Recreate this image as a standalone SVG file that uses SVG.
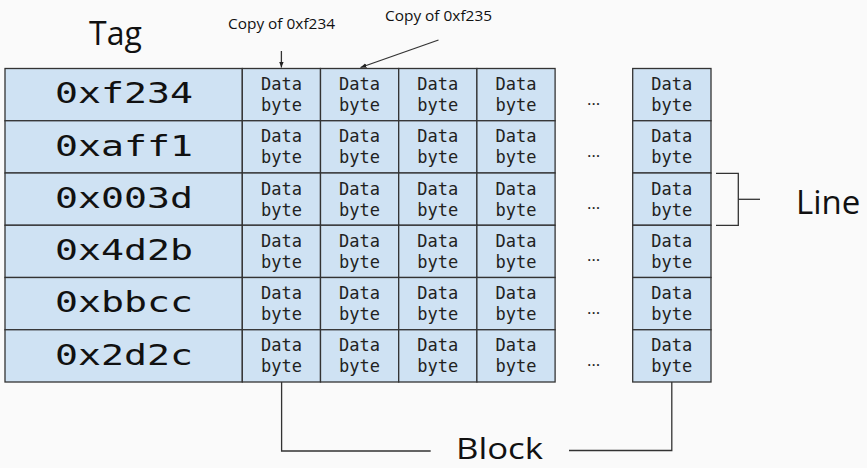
<svg xmlns="http://www.w3.org/2000/svg" width="867" height="468" viewBox="0 0 867 468">
<style>
.cell{fill:#cfe2f3;stroke:#333;stroke-width:1.3}
.hex{font-family:"DejaVu Sans Mono",monospace;font-size:27.5px;fill:#111}
.db{font-family:"DejaVu Sans Mono",monospace;font-size:17px;fill:#222;text-anchor:middle}
.dots{font-family:"Open Sans",sans-serif;font-size:17px;fill:#222;text-anchor:middle}
.lbl{font-family:"Open Sans",sans-serif;fill:#111}
.ln{fill:none;stroke:#333;stroke-width:1.3}
</style>
<defs>
<marker id="ah" viewBox="0 0 10 10" refX="10" refY="5" markerWidth="6" markerHeight="6" orient="auto" markerUnits="userSpaceOnUse">
<path d="M0,1 L10,5 L0,9 Z" fill="#222"/>
</marker>
</defs>
<rect width="867" height="468" fill="#fafafa"/>

<text class="lbl" x="89" y="45" font-size="32">Tag</text>
<text class="lbl" x="228" y="28.5" font-size="15" textLength="107" lengthAdjust="spacingAndGlyphs">Copy of 0xf234</text>
<text class="lbl" x="385" y="20.5" font-size="15" textLength="107" lengthAdjust="spacingAndGlyphs">Copy of 0xf235</text>
<text class="lbl" x="796" y="213.5" font-size="33">Line</text>
<text class="lbl" x="456" y="459" font-size="30" textLength="87" lengthAdjust="spacingAndGlyphs">Block</text>

<g id="row1" transform="translate(0,68.5)">
<rect class="cell" x="5" y="0" width="237.3" height="52.25"/>
<text class="hex" x="55" y="34.8" textLength="138" lengthAdjust="spacingAndGlyphs">0xf234</text>
<rect class="cell" x="242.3" y="0" width="78.2" height="52.25"/>
<rect class="cell" x="320.5" y="0" width="78.2" height="52.25"/>
<rect class="cell" x="398.7" y="0" width="78.2" height="52.25"/>
<rect class="cell" x="476.9" y="0" width="78.2" height="52.25"/>
<rect class="cell" x="632.7" y="0" width="78.3" height="52.25"/>
<text class="db" x="281.4" y="21.5">Data<tspan x="281.4" dy="21">byte</tspan></text>
<text class="db" x="359.6" y="21.5">Data<tspan x="359.6" dy="21">byte</tspan></text>
<text class="db" x="437.8" y="21.5">Data<tspan x="437.8" dy="21">byte</tspan></text>
<text class="db" x="516" y="21.5">Data<tspan x="516" dy="21">byte</tspan></text>
<text class="db" x="671.85" y="21.5">Data<tspan x="671.85" dy="21">byte</tspan></text>
<text class="dots" x="593.5" y="36">…</text>
</g>

<g id="row2" transform="translate(0,120.75)">
<rect class="cell" x="5" y="0" width="237.3" height="52.25"/>
<text class="hex" x="55" y="34.8" textLength="138" lengthAdjust="spacingAndGlyphs">0xaff1</text>
<rect class="cell" x="242.3" y="0" width="78.2" height="52.25"/>
<rect class="cell" x="320.5" y="0" width="78.2" height="52.25"/>
<rect class="cell" x="398.7" y="0" width="78.2" height="52.25"/>
<rect class="cell" x="476.9" y="0" width="78.2" height="52.25"/>
<rect class="cell" x="632.7" y="0" width="78.3" height="52.25"/>
<text class="db" x="281.4" y="21.5">Data<tspan x="281.4" dy="21">byte</tspan></text>
<text class="db" x="359.6" y="21.5">Data<tspan x="359.6" dy="21">byte</tspan></text>
<text class="db" x="437.8" y="21.5">Data<tspan x="437.8" dy="21">byte</tspan></text>
<text class="db" x="516" y="21.5">Data<tspan x="516" dy="21">byte</tspan></text>
<text class="db" x="671.85" y="21.5">Data<tspan x="671.85" dy="21">byte</tspan></text>
<text class="dots" x="593.5" y="36">…</text>
</g>

<g id="row3" transform="translate(0,173)">
<rect class="cell" x="5" y="0" width="237.3" height="52.25"/>
<text class="hex" x="55" y="34.8" textLength="138" lengthAdjust="spacingAndGlyphs">0x003d</text>
<rect class="cell" x="242.3" y="0" width="78.2" height="52.25"/>
<rect class="cell" x="320.5" y="0" width="78.2" height="52.25"/>
<rect class="cell" x="398.7" y="0" width="78.2" height="52.25"/>
<rect class="cell" x="476.9" y="0" width="78.2" height="52.25"/>
<rect class="cell" x="632.7" y="0" width="78.3" height="52.25"/>
<text class="db" x="281.4" y="21.5">Data<tspan x="281.4" dy="21">byte</tspan></text>
<text class="db" x="359.6" y="21.5">Data<tspan x="359.6" dy="21">byte</tspan></text>
<text class="db" x="437.8" y="21.5">Data<tspan x="437.8" dy="21">byte</tspan></text>
<text class="db" x="516" y="21.5">Data<tspan x="516" dy="21">byte</tspan></text>
<text class="db" x="671.85" y="21.5">Data<tspan x="671.85" dy="21">byte</tspan></text>
<text class="dots" x="593.5" y="36">…</text>
</g>

<g id="row4" transform="translate(0,225.25)">
<rect class="cell" x="5" y="0" width="237.3" height="52.25"/>
<text class="hex" x="55" y="34.8" textLength="138" lengthAdjust="spacingAndGlyphs">0x4d2b</text>
<rect class="cell" x="242.3" y="0" width="78.2" height="52.25"/>
<rect class="cell" x="320.5" y="0" width="78.2" height="52.25"/>
<rect class="cell" x="398.7" y="0" width="78.2" height="52.25"/>
<rect class="cell" x="476.9" y="0" width="78.2" height="52.25"/>
<rect class="cell" x="632.7" y="0" width="78.3" height="52.25"/>
<text class="db" x="281.4" y="21.5">Data<tspan x="281.4" dy="21">byte</tspan></text>
<text class="db" x="359.6" y="21.5">Data<tspan x="359.6" dy="21">byte</tspan></text>
<text class="db" x="437.8" y="21.5">Data<tspan x="437.8" dy="21">byte</tspan></text>
<text class="db" x="516" y="21.5">Data<tspan x="516" dy="21">byte</tspan></text>
<text class="db" x="671.85" y="21.5">Data<tspan x="671.85" dy="21">byte</tspan></text>
<text class="dots" x="593.5" y="36">…</text>
</g>

<g id="row5" transform="translate(0,277.5)">
<rect class="cell" x="5" y="0" width="237.3" height="52.25"/>
<text class="hex" x="55" y="34.8" textLength="138" lengthAdjust="spacingAndGlyphs">0xbbcc</text>
<rect class="cell" x="242.3" y="0" width="78.2" height="52.25"/>
<rect class="cell" x="320.5" y="0" width="78.2" height="52.25"/>
<rect class="cell" x="398.7" y="0" width="78.2" height="52.25"/>
<rect class="cell" x="476.9" y="0" width="78.2" height="52.25"/>
<rect class="cell" x="632.7" y="0" width="78.3" height="52.25"/>
<text class="db" x="281.4" y="21.5">Data<tspan x="281.4" dy="21">byte</tspan></text>
<text class="db" x="359.6" y="21.5">Data<tspan x="359.6" dy="21">byte</tspan></text>
<text class="db" x="437.8" y="21.5">Data<tspan x="437.8" dy="21">byte</tspan></text>
<text class="db" x="516" y="21.5">Data<tspan x="516" dy="21">byte</tspan></text>
<text class="db" x="671.85" y="21.5">Data<tspan x="671.85" dy="21">byte</tspan></text>
<text class="dots" x="593.5" y="36">…</text>
</g>

<g id="row6" transform="translate(0,329.75)">
<rect class="cell" x="5" y="0" width="237.3" height="52.25"/>
<text class="hex" x="55" y="34.8" textLength="138" lengthAdjust="spacingAndGlyphs">0x2d2c</text>
<rect class="cell" x="242.3" y="0" width="78.2" height="52.25"/>
<rect class="cell" x="320.5" y="0" width="78.2" height="52.25"/>
<rect class="cell" x="398.7" y="0" width="78.2" height="52.25"/>
<rect class="cell" x="476.9" y="0" width="78.2" height="52.25"/>
<rect class="cell" x="632.7" y="0" width="78.3" height="52.25"/>
<text class="db" x="281.4" y="21.5">Data<tspan x="281.4" dy="21">byte</tspan></text>
<text class="db" x="359.6" y="21.5">Data<tspan x="359.6" dy="21">byte</tspan></text>
<text class="db" x="437.8" y="21.5">Data<tspan x="437.8" dy="21">byte</tspan></text>
<text class="db" x="516" y="21.5">Data<tspan x="516" dy="21">byte</tspan></text>
<text class="db" x="671.85" y="21.5">Data<tspan x="671.85" dy="21">byte</tspan></text>
<text class="dots" x="593.5" y="36">…</text>
</g>

<g id="connectors">
<line class="ln" x1="281.4" y1="51" x2="281.4" y2="67.5" marker-end="url(#ah)"/>
<line class="ln" x1="438.5" y1="40" x2="360.5" y2="67.5" marker-end="url(#ah)"/>
<polyline class="ln" points="716,173.3 738.3,173.3 738.3,225.3 716,225.3"/>
<line class="ln" x1="738.3" y1="199.3" x2="760" y2="199.3"/>
<polyline class="ln" points="281.6,382 281.6,451 430.7,451"/>
<polyline class="ln" points="671.8,382 671.8,450.5 569,450.5"/>
</g>
</svg>
